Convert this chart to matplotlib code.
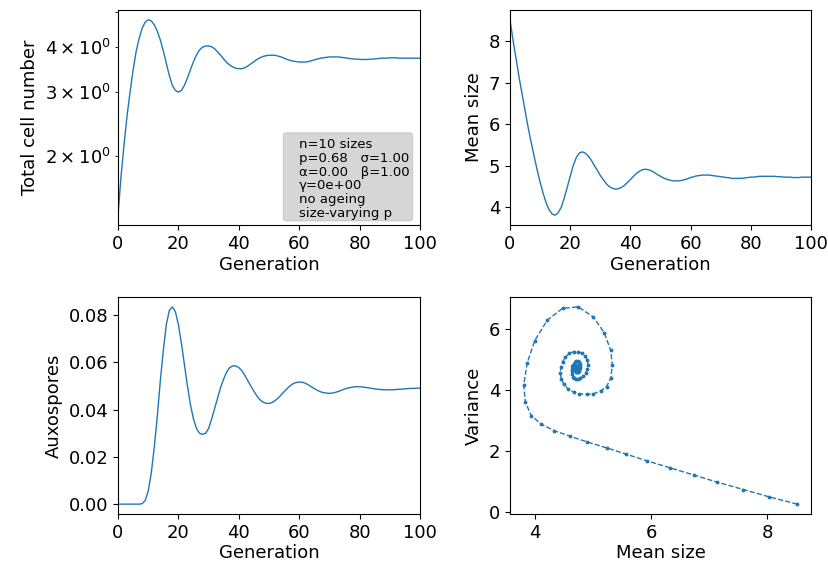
import matplotlib
matplotlib.use("Agg")
import matplotlib.pyplot as plt
from matplotlib.patches import FancyBboxPatch
from matplotlib.ticker import MultipleLocator
import numpy as np

generations = list(range(101))

total_cells = [
    1.37, 1.75, 2.15, 2.58, 3.00, 3.45, 3.88, 4.22, 4.50, 4.68,
    4.75, 4.72, 4.60, 4.42, 4.18, 3.90, 3.60, 3.33, 3.13, 3.03,
    3.00, 3.03, 3.13, 3.28, 3.46, 3.64, 3.80, 3.92, 3.99, 4.02,
    4.02, 4.00, 3.95, 3.87, 3.79, 3.70, 3.62, 3.56, 3.52, 3.49,
    3.48, 3.48, 3.50, 3.54, 3.59, 3.64, 3.69, 3.73, 3.76, 3.78,
    3.79, 3.79, 3.79, 3.77, 3.75, 3.72, 3.69, 3.67, 3.65, 3.64,
    3.63, 3.63, 3.63, 3.64, 3.66, 3.68, 3.70, 3.72, 3.73, 3.74,
    3.75, 3.75, 3.75, 3.75, 3.74, 3.73, 3.72, 3.71, 3.70, 3.70,
    3.69, 3.69, 3.69, 3.69, 3.70, 3.70, 3.71, 3.72, 3.72, 3.72,
    3.73, 3.73, 3.73, 3.72, 3.72, 3.72, 3.72, 3.72, 3.72, 3.72,
    3.72,
]

mean_size = [
    8.52, 8.03, 7.59, 7.14, 6.73, 6.33, 5.93, 5.57, 5.23, 4.90,
    4.60, 4.33, 4.10, 3.93, 3.83, 3.80, 3.86, 3.99, 4.21, 4.47,
    4.74, 5.00, 5.19, 5.30, 5.33, 5.30, 5.23, 5.13, 5.00, 4.89,
    4.76, 4.66, 4.56, 4.49, 4.45, 4.43, 4.44, 4.47, 4.52, 4.59,
    4.66, 4.74, 4.81, 4.86, 4.90, 4.91, 4.90, 4.87, 4.83, 4.78,
    4.74, 4.70, 4.67, 4.65, 4.63, 4.63, 4.63, 4.64, 4.66, 4.68,
    4.71, 4.73, 4.75, 4.76, 4.77, 4.77, 4.77, 4.76, 4.75, 4.74,
    4.73, 4.72, 4.71, 4.70, 4.69, 4.69, 4.69, 4.69, 4.70, 4.71,
    4.72, 4.72, 4.73, 4.74, 4.74, 4.74, 4.74, 4.74, 4.74, 4.73,
    4.73, 4.72, 4.72, 4.72, 4.71, 4.71, 4.71, 4.72, 4.72, 4.72,
    4.72,
]

auxospores = [
    0.0, 0.0, 0.0, 0.0, 0.0, 0.0, 0.0, 0.0, 0.0002, 0.0015,
    0.0055, 0.013, 0.024, 0.037, 0.052, 0.065, 0.076, 0.082, 0.0835, 0.0815,
    0.076, 0.068, 0.059, 0.050, 0.042, 0.036, 0.032, 0.0300, 0.0295, 0.0300,
    0.0320, 0.036, 0.0405, 0.045, 0.0495, 0.053, 0.056, 0.0578, 0.0585, 0.0585,
    0.0578, 0.0565, 0.0545, 0.0522, 0.0500, 0.0478, 0.0458, 0.0442, 0.0432, 0.0427,
    0.0426, 0.0430, 0.0438, 0.0449, 0.0462, 0.0476, 0.0489, 0.0501, 0.0510, 0.0515,
    0.0517, 0.0516, 0.0512, 0.0505, 0.0497, 0.0489, 0.0482, 0.0476, 0.0472, 0.0470,
    0.0469, 0.0470, 0.0473, 0.0477, 0.0482, 0.0487, 0.0491, 0.0494, 0.0496, 0.0497,
    0.0497, 0.0496, 0.0494, 0.0492, 0.0490, 0.0488, 0.0486, 0.0485, 0.0484, 0.0484,
    0.0484, 0.0484, 0.0485, 0.0486, 0.0487, 0.0488, 0.0489, 0.0490, 0.0490, 0.0491,
    0.0491,
]

variance = [
    0.25, 0.49, 0.73, 0.97, 1.21, 1.44, 1.67, 1.89, 2.10, 2.29,
    2.48, 2.66, 2.88, 3.16, 3.60, 4.16, 4.88, 5.62, 6.30, 6.68,
    6.73, 6.40, 5.88, 5.31, 4.81, 4.38, 4.11, 3.97, 3.87, 3.86,
    3.87, 3.93, 4.04, 4.20, 4.36, 4.55, 4.74, 4.92, 5.08, 5.20,
    5.26, 5.26, 5.20, 5.10, 4.97, 4.83, 4.69, 4.56, 4.46, 4.39,
    4.35, 4.35, 4.38, 4.44, 4.52, 4.61, 4.70, 4.78, 4.86, 4.91,
    4.94, 4.95, 4.93, 4.89, 4.84, 4.78, 4.72, 4.66, 4.62, 4.59,
    4.58, 4.58, 4.60, 4.63, 4.66, 4.70, 4.74, 4.77, 4.79, 4.80,
    4.80, 4.80, 4.79, 4.77, 4.75, 4.72, 4.70, 4.68, 4.67, 4.67,
    4.67, 4.67, 4.68, 4.69, 4.71, 4.72, 4.73, 4.74, 4.74, 4.74,
    4.74,
]

info_text = ("n=10 sizes\n"
             "p=0.68   \u03c3=1.00\n"
             "\u03b1=0.00   \u03b2=1.00\n"
             "\u03b3=0e+00\n"
             "no ageing\n"
             "size-varying p")

plt.rcParams['font.family'] = ['DejaVu Sans']
plt.rcParams['font.size'] = 13

W, H = 829, 564
fig = plt.figure(figsize=(W / 100, H / 100), dpi=100)

def pos(x0, y0, x1, y1):
    return [x0 / W, 1 - y1 / H, (x1 - x0) / W, (y1 - y0) / H]

ax1 = fig.add_axes(pos(118, 10, 420, 225))
ax2 = fig.add_axes(pos(510, 10, 811, 225))
ax3 = fig.add_axes(pos(118, 297, 420, 514))
ax4 = fig.add_axes(pos(510, 297, 811, 514))

c = 'C0'
ax1.plot(generations, total_cells, color=c, lw=1)
ax1.set_yscale('log')
ax1.set_xlim(0, 100)
ax1.set_xlabel('Generation', labelpad=2)
ax1.set_ylabel('Total cell number')
box = FancyBboxPatch((0.548, 0.02), 0.427, 0.408, transform=ax1.transAxes,
                     boxstyle='round,pad=0,rounding_size=0.012',
                     facecolor='#d6d6d6', edgecolor='#cccccc', lw=1, zorder=3)
ax1.add_patch(box)
ax1.text(0.599, 0.405, info_text, transform=ax1.transAxes, fontsize=9.5,
         ha='left', va='top', linespacing=1.08, zorder=4)

ax2.plot(generations, mean_size, color=c, lw=1)
ax2.set_xlim(0, 100)
ax2.yaxis.set_major_locator(MultipleLocator(1))
ax2.set_xlabel('Generation', labelpad=2)
ax2.set_ylabel('Mean size')

ax3.plot(generations, auxospores, color=c, lw=1)
ax3.set_xlim(0, 100)
ax3.set_xlabel('Generation', labelpad=2)
ax3.set_ylabel('Auxospores')

ax4.plot(mean_size, variance, color=c, lw=1, ls='--', marker='.', markersize=3.5)
ax4.set_xlabel('Mean size', labelpad=2)
ax4.set_ylabel('Variance')

fig.savefig('out.png', dpi=100)
